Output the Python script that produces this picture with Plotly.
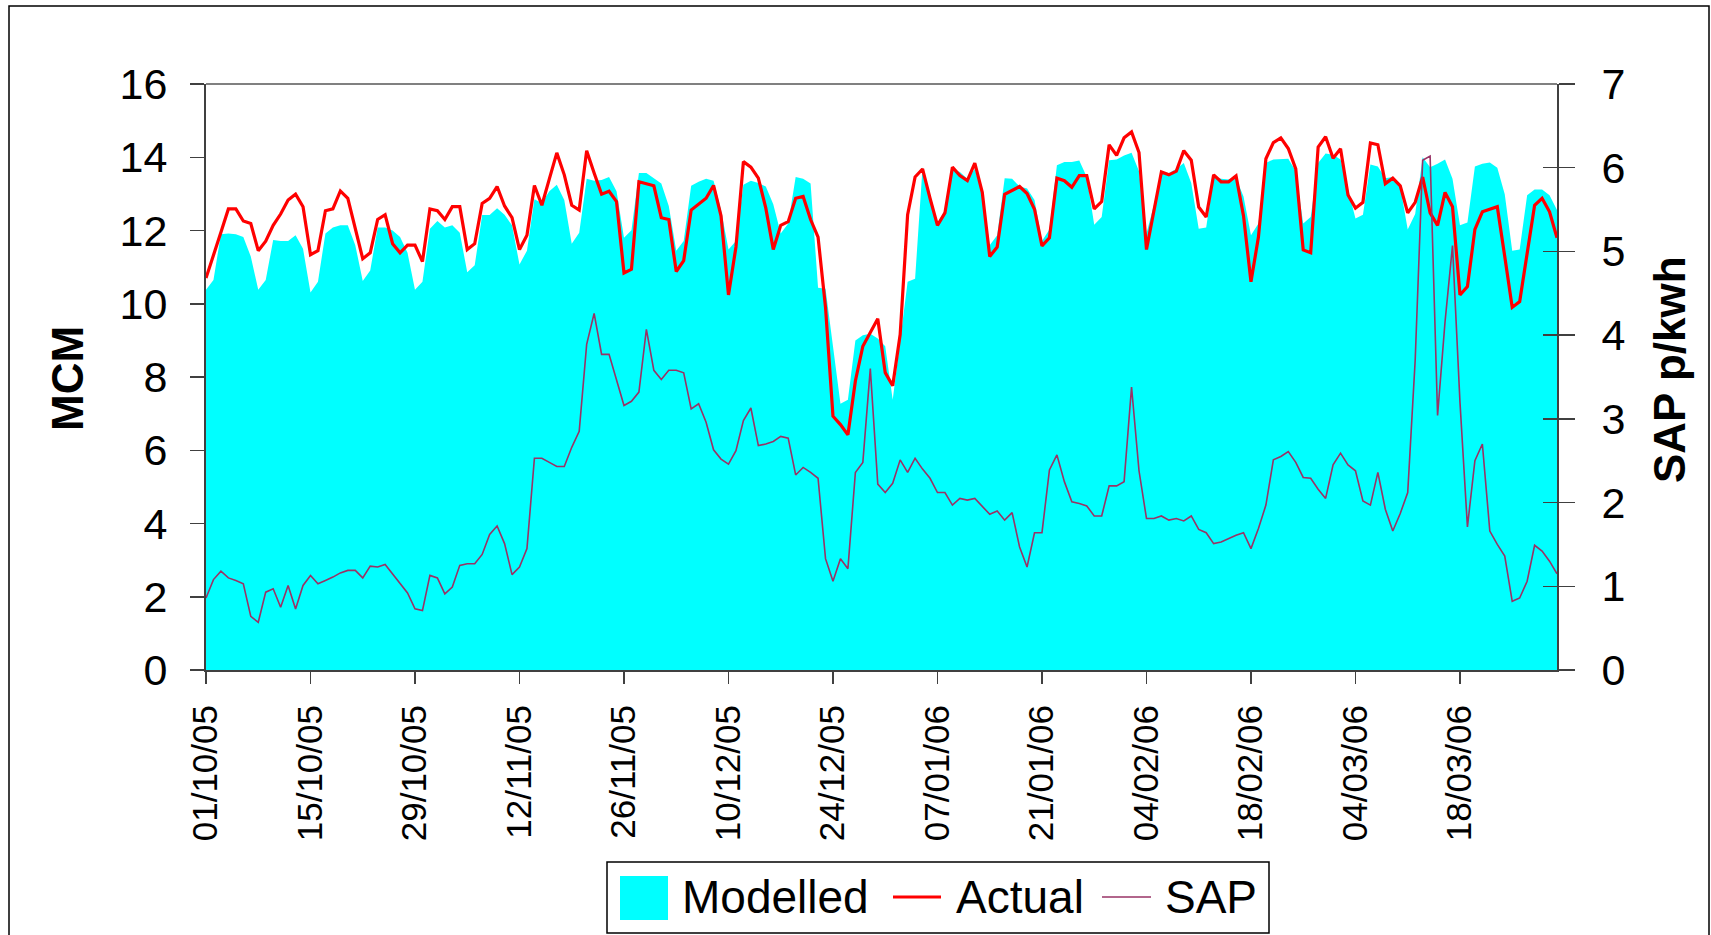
import pandas as pd
import plotly.graph_objects as go

# ---------------- data ----------------
dates = pd.date_range("2005-10-01", "2006-03-31", freq="D")

modelled = [
    10.38, 10.65, 11.90, 11.92, 11.90, 11.82, 11.29, 10.38, 10.65, 11.74,
    11.71, 11.71, 11.87, 11.50, 10.31, 10.60, 11.92, 12.08, 12.14, 12.14,
    11.60, 10.62, 10.91, 12.08, 12.08, 12.00, 11.82, 11.39, 10.38, 10.60,
    12.05, 12.26, 12.08, 12.14, 11.94, 10.86, 11.05, 12.42, 12.42, 12.61,
    12.43, 12.14, 11.07, 11.45, 12.85, 12.75, 13.07, 13.25, 12.83, 11.64,
    11.94, 13.41, 13.36, 13.38, 13.46, 13.07, 11.80, 12.01, 13.57, 13.57,
    13.43, 13.28, 12.67, 11.45, 11.71, 13.22, 13.33, 13.41, 13.36, 12.56,
    11.48, 11.71, 13.25, 13.36, 13.30, 13.20, 12.72, 11.92, 12.19, 13.46,
    13.41, 13.28, 10.44, 10.41, 8.84, 7.27, 7.38, 9.00, 9.14, 9.18,
    9.05, 8.84, 7.38, 8.95, 10.60, 10.68, 13.73, 12.99, 12.19, 12.56,
    13.68, 13.60, 13.41, 13.68, 12.99, 11.60, 11.87, 13.43, 13.41, 13.20,
    13.15, 12.83, 11.71, 12.03, 13.78, 13.87, 13.87, 13.91, 13.46, 12.16,
    12.37, 13.92, 13.94, 14.05, 14.12, 13.62, 11.92, 12.70, 13.60, 13.57,
    13.68, 13.84, 13.30, 12.05, 12.08, 13.46, 13.41, 13.39, 13.43, 12.93,
    11.87, 12.19, 13.84, 13.94, 13.96, 13.96, 13.62, 12.19, 12.37, 13.84,
    14.10, 14.07, 13.94, 13.10, 12.33, 12.43, 13.80, 13.75, 13.43, 13.46,
    13.20, 12.03, 12.45, 14.00, 13.73, 13.82, 13.94, 13.41, 12.14, 12.22,
    13.75, 13.82, 13.86, 13.71, 12.99, 11.45, 11.48, 12.96, 13.12, 13.12,
    12.96, 12.56,
]

actual = [
    10.70, 11.30, 11.95, 12.59, 12.59, 12.26, 12.19, 11.45, 11.71, 12.14,
    12.45, 12.83, 12.99, 12.65, 11.34, 11.45, 12.54, 12.59, 13.08, 12.88,
    12.08, 11.23, 11.39, 12.30, 12.43, 11.64, 11.39, 11.60, 11.60, 11.15,
    12.59, 12.54, 12.30, 12.65, 12.65, 11.48, 11.64, 12.74, 12.88, 13.20,
    12.67, 12.35, 11.48, 11.87, 13.23, 12.69, 13.41, 14.12, 13.52, 12.69,
    12.56, 14.18, 13.57, 12.99, 13.07, 12.79, 10.84, 10.94, 13.33, 13.28,
    13.22, 12.35, 12.30, 10.88, 11.18, 12.56, 12.72, 12.88, 13.23, 12.40,
    10.24, 11.55, 13.88, 13.73, 13.43, 12.61, 11.48, 12.14, 12.24, 12.88,
    12.93, 12.30, 11.82, 9.90, 6.93, 6.70, 6.42, 7.89, 8.84, 9.21,
    9.59, 8.12, 7.76, 9.16, 12.43, 13.46, 13.68, 12.88, 12.14, 12.48,
    13.73, 13.50, 13.36, 13.84, 13.04, 11.29, 11.55, 12.99, 13.09, 13.20,
    13.01, 12.58, 11.58, 11.80, 13.43, 13.36, 13.18, 13.50, 13.50, 12.59,
    12.79, 14.34, 14.05, 14.53, 14.69, 14.13, 11.48, 12.56, 13.60, 13.52,
    13.62, 14.18, 13.92, 12.64, 12.37, 13.52, 13.33, 13.33, 13.49, 12.40,
    10.60, 11.82, 13.96, 14.40, 14.53, 14.24, 13.68, 11.47, 11.39, 14.28,
    14.56, 13.97, 14.23, 12.97, 12.61, 12.77, 14.39, 14.34, 13.28, 13.43,
    13.22, 12.48, 12.77, 13.46, 12.48, 12.14, 13.04, 12.65, 10.24, 10.47,
    12.03, 12.51, 12.59, 12.65, 11.29, 9.90, 10.06, 11.34, 12.69, 12.88,
    12.51, 11.80,
]

sap = [
    0.86, 1.08, 1.18, 1.10, 1.07, 1.03, 0.64, 0.57, 0.93, 0.97,
    0.75, 1.01, 0.73, 1.01, 1.13, 1.03, 1.07, 1.11, 1.16, 1.19,
    1.19, 1.10, 1.24, 1.23, 1.26, 1.15, 1.03, 0.92, 0.73, 0.71,
    1.13, 1.10, 0.91, 0.99, 1.25, 1.27, 1.27, 1.38, 1.62, 1.72,
    1.51, 1.14, 1.23, 1.45, 2.53, 2.53, 2.48, 2.43, 2.43, 2.66,
    2.85, 3.89, 4.26, 3.77, 3.77, 3.46, 3.16, 3.21, 3.32, 4.07,
    3.58, 3.47, 3.58, 3.58, 3.55, 3.12, 3.18, 2.96, 2.63, 2.52,
    2.46, 2.62, 2.98, 3.13, 2.68, 2.70, 2.73, 2.79, 2.77, 2.33,
    2.42, 2.36, 2.29, 1.33, 1.06, 1.33, 1.21, 2.36, 2.48, 3.60,
    2.22, 2.12, 2.23, 2.51, 2.36, 2.53, 2.40, 2.29, 2.12, 2.12,
    1.97, 2.05, 2.03, 2.05, 1.95, 1.86, 1.90, 1.79, 1.88, 1.47,
    1.23, 1.64, 1.64, 2.39, 2.57, 2.25, 2.01, 1.99, 1.96, 1.84,
    1.84, 2.20, 2.20, 2.25, 3.38, 2.38, 1.81, 1.81, 1.84, 1.79,
    1.81, 1.78, 1.84, 1.68, 1.64, 1.51, 1.53, 1.57, 1.61, 1.64,
    1.45, 1.69, 1.97, 2.51, 2.55, 2.61, 2.48, 2.30, 2.29, 2.16,
    2.05, 2.45, 2.59, 2.45, 2.38, 2.02, 1.97, 2.36, 1.92, 1.66,
    1.87, 2.12, 3.70, 6.09, 6.14, 3.04, 4.16, 5.07, 3.20, 1.71,
    2.50, 2.70, 1.66, 1.50, 1.36, 0.82, 0.86, 1.06, 1.49, 1.42,
    1.30, 1.15,
]

series_names = ["Modelled", "Actual", "SAP"]
series_colors = ["#00FFFF", "#FF0000", "#993366"]
y_ticks_left = [0, 2, 4, 6, 8, 10, 12, 14, 16]
y_ticks_right = [0, 1, 2, 3, 4, 5, 6, 7]

# ---------------- layout geometry (pixels) ----------------
W, H = 1711, 935
L, R, T, B = 206, 1557, 84, 670


def px(x):
    return (x - L) / (R - L)


def py(y):
    return (B - y) / (B - T)


FONT = "Liberation Sans, Arial, sans-serif"
AXC = "#404040"

fig = go.Figure()
fig.add_trace(go.Scatter(
    x=dates, y=modelled, name=series_names[0], mode="lines",
    line=dict(width=0, color=series_colors[0]), fill="tozeroy",
    fillcolor=series_colors[0], showlegend=False,
))
fig.add_trace(go.Scatter(
    x=dates, y=actual, name=series_names[1], mode="lines",
    line=dict(color=series_colors[1], width=3.2), showlegend=False,
))
fig.add_trace(go.Scatter(
    x=dates, y=sap, name=series_names[2], mode="lines", yaxis="y2",
    line=dict(color=series_colors[2], width=1.6), showlegend=False,
))
# invisible trace to instantiate yaxis3 (inner half of the crossing ticks on the right axis)
fig.add_trace(go.Scatter(x=[dates[0]], y=[0], yaxis="y3", mode="markers",
                         marker=dict(opacity=0), showlegend=False, hoverinfo="skip"))

# ---------------- hand-built legend (Excel style) ----------------
LEG_Y = 897
shapes = [
    dict(type="line", xref="paper", yref="paper", x0=0, x1=1, y0=1, y1=1,
         line=dict(color="#808080", width=2)),
    dict(type="rect", xref="paper", yref="paper", x0=px(9), x1=px(1709),
         y0=py(960), y1=py(6), line=dict(color="black", width=1.5), layer="below"),
    # legend box
    dict(type="rect", xref="paper", yref="paper", x0=px(607), x1=px(1269),
         y0=py(933), y1=py(862), line=dict(color="black", width=1.5),
         fillcolor="white"),
    # Modelled swatch
    dict(type="rect", xref="paper", yref="paper", x0=px(620), x1=px(668),
         y0=py(920), y1=py(876), line=dict(width=0), fillcolor=series_colors[0]),
    # Actual line
    dict(type="line", xref="paper", yref="paper", x0=px(893), x1=px(941),
         y0=py(LEG_Y), y1=py(LEG_Y), line=dict(color=series_colors[1], width=3.2)),
    # SAP line
    dict(type="line", xref="paper", yref="paper", x0=px(1102), x1=px(1151),
         y0=py(LEG_Y), y1=py(LEG_Y), line=dict(color=series_colors[2], width=1.6)),
]

annotations = [
    dict(text="<b>MCM</b>", x=px(67), y=py(379), xref="paper", yref="paper",
         textangle=-90, showarrow=False, font=dict(size=44, family=FONT),
         xanchor="center", yanchor="middle"),
    dict(text="<b>SAP p/kwh</b>", x=px(1669), y=py(370), xref="paper", yref="paper",
         textangle=-90, showarrow=False, font=dict(size=44, family=FONT),
         xanchor="center", yanchor="middle"),
]
for name, xl in zip(series_names, [680, 954, 1163]):
    annotations.append(dict(
        text=name, x=px(xl), y=py(LEG_Y), xref="paper", yref="paper",
        showarrow=False, xanchor="left", yanchor="middle",
        font=dict(size=46, family=FONT, color="black"),
    ))

fig.update_layout(
    width=W, height=H,
    margin=dict(l=L, r=W - R, t=T, b=H - B),
    paper_bgcolor="white", plot_bgcolor="white",
    font=dict(family=FONT, color="black"),
    showlegend=False,
    xaxis=dict(
        type="date", range=[dates[0], dates[-1]],
        tick0="2005-10-01", dtick=14 * 86400000, tickformat="%d/%m/%y",
        tickangle=-90, ticks="outside", ticklen=12, tickwidth=1.5, tickcolor=AXC,
        showline=True, linecolor=AXC, linewidth=2, showgrid=False, zeroline=False,
        tickfont=dict(size=35, family=FONT), ticklabelstandoff=7,
    ),
    yaxis=dict(
        range=[0, 16], tickvals=y_ticks_left, ticks="outside", ticklen=14,
        tickwidth=1.5, tickcolor=AXC, showline=True, linecolor=AXC, linewidth=2,
        showgrid=False, zeroline=False, tickfont=dict(size=43, family=FONT),
        ticklabelstandoff=14,
    ),
    yaxis2=dict(
        range=[0, 7], tickvals=y_ticks_right, overlaying="y", side="right",
        ticks="outside", ticklen=16, tickwidth=1.5, tickcolor=AXC,
        showline=True, linecolor=AXC, linewidth=2, showgrid=False, zeroline=False,
        tickfont=dict(size=43, family=FONT), ticklabelstandoff=18,
    ),
    yaxis3=dict(
        range=[0, 7], tickvals=y_ticks_right, overlaying="y", side="right",
        ticks="inside", ticklen=14, tickwidth=1.5, tickcolor=AXC,
        showticklabels=False, showline=False, showgrid=False, zeroline=False,
    ),
    annotations=annotations,
    shapes=shapes,
)

fig.write_html(
    "out.html",
    config={"displayModeBar": False, "staticPlot": True},
    post_script="document.body.style.margin='0';document.body.style.overflow='hidden';",
)
